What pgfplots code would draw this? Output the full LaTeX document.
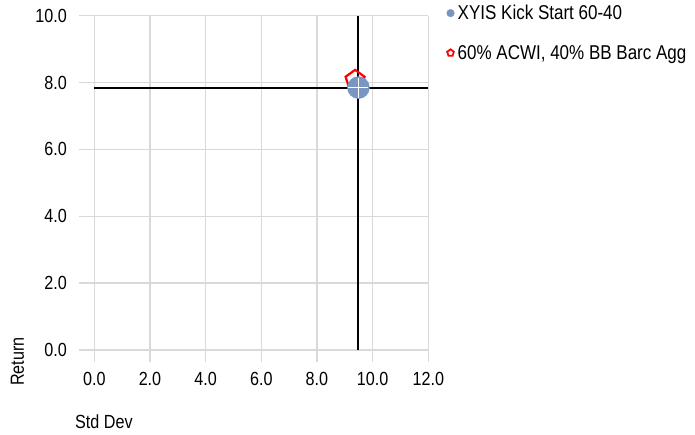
\documentclass[border=0pt]{standalone}
\usepackage{fontspec}
\setmainfont{Liberation Sans}[FakeStretch=0.85]
\usepackage{pgfplots}
\pgfplotsset{compat=1.18}
\definecolor{gridgray}{RGB}{217,217,217}
\definecolor{ptblue}{RGB}{122,150,192}
\definecolor{ptred}{RGB}{255,0,0}
\begin{document}
\begin{tikzpicture}[x=1pt,y=1pt]
\useasboundingbox (0,0) rectangle (695,435);
\begin{axis}[
  at={(79pt,73.3pt)}, anchor=south west,
  scale only axis, width=349.3pt, height=346pt,
  xmin=-0.55, xmax=12, ymin=-0.35, ymax=10,
  xtick={0,2,...,12}, ytick={0,2,...,10},
  grid=major, grid style={gridgray, line width=1.4pt},
  axis line style={draw=none}, major tick length=0pt,
  tick label style={font=\fontsize{19}{19}\selectfont},
  /pgf/number format/fixed, /pgf/number format/fixed zerofill,
  /pgf/number format/precision=1, /pgf/number format/assume math mode=true,
  xticklabel style={anchor=north, inner sep=0pt, yshift=-10pt},
  yticklabel style={anchor=east, inner sep=0pt, xshift=-12pt},
  clip=false,
  legend style={at={(axis description cs:1.051,1.034)}, anchor=north west,
    draw=none, fill=none, inner sep=0pt, row sep=22pt,
    font=\fontsize{20}{20}\selectfont,
    nodes={inner sep=1pt, anchor=west}},
  legend cell align=left,
]
% crosshair lines
\addplot[black, line width=2pt, forget plot] coordinates {(0,7.85) (12,7.85)};
\addplot[black, line width=2pt, forget plot] coordinates {(9.49,0) (9.49,10)};
% benchmark
\addplot[only marks, mark=pentagon, mark size=10pt, ptred, line width=2.2pt, forget plot] coordinates {(9.37,8.08)};
% fund
\addplot[only marks, mark=*, mark size=11pt, ptblue, forget plot] coordinates {(9.49,7.85)};
\addplot[only marks, mark=+, mark size=10pt, white, line width=1.5pt, forget plot] coordinates {(9.49,7.85)};
\addlegendimage{legend image code/.code={\path (-4pt,0pt) (6pt,0pt); \fill[ptblue] (0pt,0pt) circle (3.8pt);}}
\addlegendentry{XYIS Kick Start 60-40}
\addlegendimage{legend image code/.code={\path (-4pt,0pt) (6pt,0pt); \draw[ptred, line width=1.8pt] plot[mark=pentagon, mark size=3.5pt] coordinates {(0pt,0pt)};}}
\addlegendentry{60\% ACWI, 40\% BB Barc Agg}
\end{axis}
\node[rotate=90, font=\fontsize{19}{19}\selectfont] at (17.5,73.5) {Return};
\node[anchor=west, inner sep=0pt, font=\fontsize{19}{19}\selectfont] at (75,13) {Std Dev};
\end{tikzpicture}
\end{document}
